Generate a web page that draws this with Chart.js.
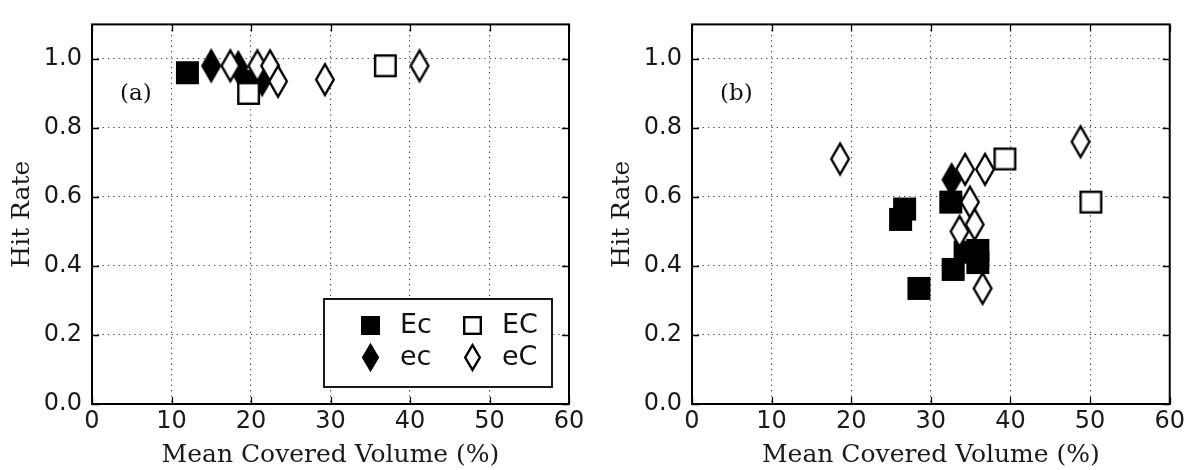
<!DOCTYPE html>
<html>
<head>
<meta charset="utf-8">
<script src="https://cdn.jsdelivr.net/npm/chart.js@4.4.1/dist/chart.umd.min.js"></script>
<style>
html, body { margin: 0; padding: 0; background: #fff; }
#wrap { position: relative; width: 1188px; height: 470px; }
canvas { position: absolute; top: 0; }
</style>
</head>
<body>
<div id="wrap">
  <canvas id="chartA" width="600" height="470" style="left:0px"></canvas>
  <canvas id="chartB" width="588" height="470" style="left:600px"></canvas>
</div>
<script>
// ---- data ----
var seriesNames = ['Ec', 'EC', 'ec', 'eC'];
var xTickValues = [0, 10, 20, 30, 40, 50, 60];
var yTickValues = [0.0, 0.2, 0.4, 0.6, 0.8, 1.0];
var panelLabels = ['(a)', '(b)'];
var xTitle = 'Mean Covered Volume (%)';
var yTitle = 'Hit Rate';

// panel (a)
var a_Ec = [[12.0, 0.96], [19.8, 0.935]];
var a_EC = [[19.7, 0.90], [36.9, 0.98]];
var a_ec = [[15.0, 0.98], [18.4, 0.975], [21.4, 0.94]];
var a_eC = [[17.4, 0.98], [20.8, 0.98], [22.4, 0.98], [23.4, 0.935], [29.3, 0.94], [41.2, 0.98]];

// panel (b)
var b_Ec = [[26.7, 0.565], [26.2, 0.535], [28.5, 0.335], [32.5, 0.585], [32.8, 0.39], [34.3, 0.44], [35.9, 0.445], [35.9, 0.41]];
var b_EC = [[39.3, 0.71], [50.1, 0.585]];
var b_ec = [[32.6, 0.65]];
var b_eC = [[18.6, 0.71], [34.3, 0.68], [36.8, 0.68], [34.9, 0.585], [33.6, 0.50], [35.5, 0.52], [36.5, 0.335], [48.8, 0.76]];

// ---- marker images ----
function squareMarker(filled, side) {
    var pad = 2, lw = 2.4;
    var c = document.createElement('canvas');
    c.width = c.height = Math.round(side + pad * 2);
    var ctx = c.getContext('2d');
    ctx.fillStyle = filled ? '#000' : '#fff';
    ctx.fillRect(pad, pad, side, side);
    ctx.strokeStyle = '#000';
    ctx.lineWidth = lw;
    ctx.strokeRect(pad + lw / 2, pad + lw / 2, side - lw, side - lw);
    return c;
}

function diamondMarker(filled, w, h) {
    var pad = 2, lw = 2.4;
    var c = document.createElement('canvas');
    c.width = Math.round(w + pad * 2);
    c.height = Math.round(h + pad * 2);
    var ctx = c.getContext('2d');
    var cx = c.width / 2, cy = c.height / 2;
    ctx.beginPath();
    ctx.moveTo(cx, cy - h / 2 + lw / 2);
    ctx.lineTo(cx + w / 2 - lw / 2, cy);
    ctx.lineTo(cx, cy + h / 2 - lw / 2);
    ctx.lineTo(cx - w / 2 + lw / 2, cy);
    ctx.closePath();
    ctx.fillStyle = filled ? '#000' : '#fff';
    ctx.fill();
    ctx.strokeStyle = '#000';
    ctx.lineWidth = lw;
    ctx.lineJoin = 'miter';
    ctx.stroke();
    return c;
}

var markers = {
    'Ec': squareMarker(true, 23),
    'EC': squareMarker(false, 23),
    'ec': diamondMarker(true, 20, 33),
    'eC': diamondMarker(false, 20, 33)
};
var legendMarkers = {
    'Ec': squareMarker(true, 19),
    'EC': squareMarker(false, 19),
    'ec': diamondMarker(true, 17, 27),
    'eC': diamondMarker(false, 17, 27)
};
// higher order = drawn lower
var drawOrder = { 'eC': 1, 'EC': 2, 'ec': 3, 'Ec': 4 };

function toPoints(arr) {
    return arr.map(function(p) { return { x: p[0], y: p[1] }; });
}

function makeDatasets(groups) {
    return seriesNames.map(function(name) {
        return {
            label: name,
            data: toPoints(groups[name]),
            pointStyle: markers[name],
            pointRadius: 11,
            order: drawOrder[name],
            showLine: false
        };
    });
}

// frame, inward ticks, panel label, legend
var framePlugin = {
    id: 'frame',
    beforeDatasetsDraw: function(chart) {
        var ctx = chart.ctx, ca = chart.chartArea;
        var xs = chart.scales.x, ys = chart.scales.y, len = 7;
        ctx.save();
        ctx.strokeStyle = '#000';
        ctx.lineWidth = 1.3;
        ctx.beginPath();
        xTickValues.forEach(function(v) {
            var px = Math.round(xs.getPixelForValue(v)) + 0.5;
            ctx.moveTo(px, ca.bottom); ctx.lineTo(px, ca.bottom - len);
            ctx.moveTo(px, ca.top); ctx.lineTo(px, ca.top + len);
        });
        yTickValues.forEach(function(v) {
            var py = Math.round(ys.getPixelForValue(v)) + 0.5;
            ctx.moveTo(ca.left, py); ctx.lineTo(ca.left + len, py);
            ctx.moveTo(ca.right, py); ctx.lineTo(ca.right - len, py);
        });
        ctx.stroke();
        ctx.restore();
    },
    afterDatasetsDraw: function(chart, args, opts) {
        var ctx = chart.ctx, ca = chart.chartArea;
        ctx.save();
        ctx.strokeStyle = '#000';
        ctx.lineWidth = 2;
        ctx.strokeRect(ca.left, ca.top, ca.right - ca.left, ca.bottom - ca.top);

        ctx.fillStyle = '#111';
        ctx.font = '23px "DejaVu Serif"';
        ctx.textAlign = 'left';
        ctx.textBaseline = 'middle';
        ctx.fillText(opts.label, ca.left + 28, ca.top + 70);

        if (opts.legend) {
            var bw = 228, bh = 88;
            var bx = ca.right - 17 - bw, by = ca.bottom - 17 - bh;
            ctx.fillStyle = '#fff';
            ctx.fillRect(bx, by, bw, bh);
            ctx.lineWidth = 1.8;
            ctx.strokeRect(bx, by, bw, bh);
            ctx.font = '27px "DejaVu Sans"';
            ctx.fillStyle = '#111';
            var cells = [['Ec', 0, 0], ['EC', 1, 0], ['ec', 0, 1], ['eC', 1, 1]];
            cells.forEach(function(cl) {
                var img = legendMarkers[cl[0]];
                var mx = bx + 46 + cl[1] * 102, my = by + 26 + cl[2] * 32;
                ctx.drawImage(img, Math.round(mx - img.width / 2), Math.round(my - img.height / 2));
                ctx.fillText(cl[0], bx + 76 + cl[1] * 102, my + 1);
            });
        }
        ctx.restore();
    }
};

function buildChart(canvasId, groups, label, showLegend, rightPad) {
    return new Chart(document.getElementById(canvasId), {
        type: 'scatter',
        data: { datasets: makeDatasets(groups) },
        options: {
            responsive: false,
            animation: false,
            layout: { padding: { top: 17, right: rightPad, left: 0, bottom: 0 } },
            plugins: {
                legend: { display: false },
                tooltip: { enabled: false },
                frame: { label: label, legend: showLegend }
            },
            scales: {
                x: {
                    type: 'linear', min: 0, max: 60,
                    afterBuildTicks: function(s) { s.ticks = xTickValues.map(function(v) { return { value: v }; }); },
                    afterFit: function(s) { s.height = 66; },
                    grid: { color: '#444', lineWidth: 1.1, drawTicks: false },
                    border: { display: false, dash: [1.3, 4] },
                    ticks: {
                        padding: 3, color: '#1a1a1a',
                        font: { family: 'DejaVu Sans', size: 24 },
                        maxRotation: 0,
                        callback: function(v) { return String(v); }
                    },
                    title: {
                        display: true, text: xTitle, color: '#1a1a1a',
                        font: { family: 'DejaVu Serif', size: 25 },
                        padding: { top: 0, bottom: 0 }
                    }
                },
                y: {
                    type: 'linear', min: 0, max: 1.1,
                    afterBuildTicks: function(s) { s.ticks = yTickValues.map(function(v) { return { value: v }; }); },
                    afterFit: function(s) { s.width = 92; },
                    grid: { color: '#444', lineWidth: 1.1, drawTicks: false },
                    border: { display: false, dash: [1.3, 4] },
                    ticks: {
                        padding: 10, color: '#1a1a1a',
                        font: { family: 'DejaVu Sans', size: 24 },
                        callback: function(v) { return Number(v).toFixed(1); }
                    },
                    title: {
                        display: true, text: yTitle, color: '#1a1a1a',
                        font: { family: 'DejaVu Serif', size: 25 },
                        padding: { top: 7, bottom: 0 }
                    }
                }
            }
        },
        plugins: [framePlugin]
    });
}

buildChart('chartA', { 'Ec': a_Ec, 'EC': a_EC, 'ec': a_ec, 'eC': a_eC }, panelLabels[0], true, 31);
buildChart('chartB', { 'Ec': b_Ec, 'EC': b_EC, 'ec': b_ec, 'eC': b_eC }, panelLabels[1], false, 18);
</script>
</body>
</html>
